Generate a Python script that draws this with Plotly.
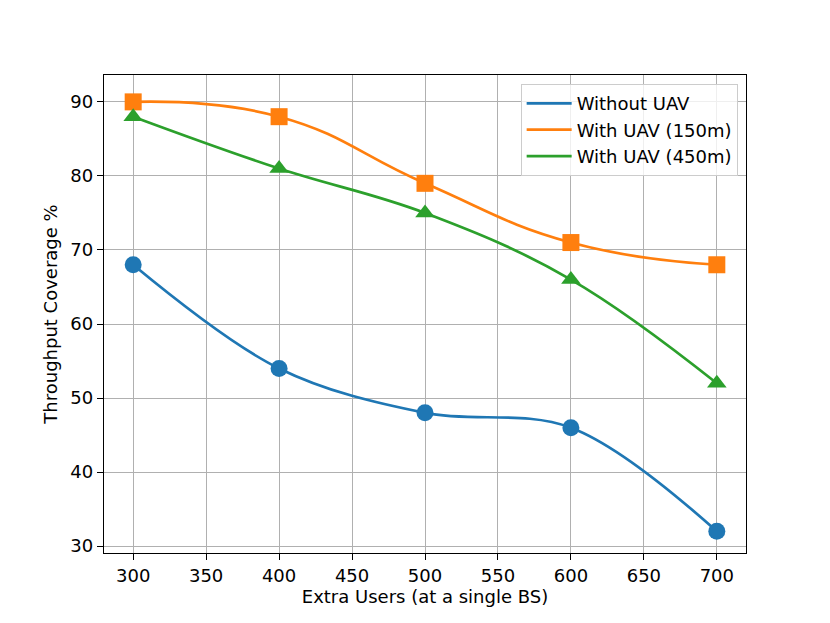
import plotly.graph_objects as go

users = [300, 400, 500, 600, 700]
without_uav = [68, 54, 48, 46, 32]
uav_150 = [90, 88, 79, 71, 68]
uav_450 = [88, 81, 75, 66, 52]

series = [
    ("Without UAV", without_uav, "#1f77b4", "circle", 1.0),
    ("With UAV (150m)", uav_150, "#ff7f0e", "square", 1.3),
    ("With UAV (450m)", uav_450, "#2ca02c", "triangle-up", 1.1),
]

fig = go.Figure()
for name, vals, color, sym, sm in series:
    fig.add_trace(go.Scatter(x=users, y=vals, mode="lines", name=name,
                             line=dict(color=color, width=2.7, shape="spline", smoothing=sm)))
for name, vals, color, sym, sm in series:
    fig.add_trace(go.Scatter(x=users, y=vals, mode="markers", showlegend=False,
                             marker=dict(color=color, symbol=sym, size=17, line=dict(width=0))))

font = "DejaVu Sans, sans-serif"
axis_common = dict(showgrid=True, gridcolor="#b0b0b0", gridwidth=1, zeroline=False,
                   showline=True, linecolor="black", linewidth=1.3, mirror=True,
                   ticks="outside", ticklen=6, tickcolor="black", tickwidth=1.2,
                   automargin=False,
                   tickfont=dict(family=font, size=18, color="black"))
# page body has an 8px margin, so the figure is sized to fit the 830x623 window
fig.update_layout(
    width=814, height=607,
    paper_bgcolor="white", plot_bgcolor="white",
    margin=dict(l=95.5, r=75.5, t=66.7, b=61.7),
    font=dict(family=font, color="black", size=18),
    xaxis=dict(range=[280, 720], tickvals=[300, 350, 400, 450, 500, 550, 600, 650, 700],
               title=dict(text="Extra Users (at a single BS)", font=dict(family=font, size=18), standoff=4),
               **axis_common),
    yaxis=dict(range=[29.07, 93.63], tickvals=[30, 40, 50, 60, 70, 80, 90],
               title=dict(text="Throughput Coverage %", font=dict(family=font, size=18), standoff=8),
               **axis_common),
    legend=dict(x=0.987, y=0.981, xanchor="right", yanchor="top", itemwidth=45,
                bgcolor="rgba(255,255,255,0.8)", bordercolor="#cccccc", borderwidth=1,
                font=dict(family=font, size=18)),
)
fig.write_html("out.html")
